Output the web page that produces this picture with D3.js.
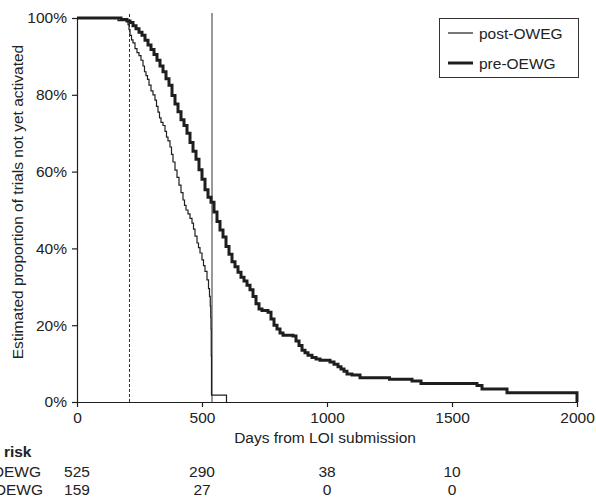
<!DOCTYPE html>
<html><head><meta charset="utf-8">
<script src="https://cdn.jsdelivr.net/npm/d3@7"></script>
<style>
body{margin:0;background:#fff;}
svg{display:block;font-family:"Liberation Sans",Arial,sans-serif;}
</style></head>
<body><svg id="c" width="596" height="500"></svg>
<script>
// ---- data ----
const postDays = [0,164,204,208,212,218,224,232,240,248,256,264,270,276,282,288,296,304,312,318,324,330,336,344,352,358,364,372,378,384,392,400,408,416,424,430,436,444,452,460,466,472,480,486,492,500,506,512,520,526,530,533,535,536,537,538,598];
const postSurv = [100,99.3,98.3,97,95.5,94.3,93.5,92,91,90.2,89,87.5,86,85,84,82.5,81,80,78.6,77,75.5,74,72.8,72,70.5,69,68,66.4,64.5,62.5,60.4,58.5,56.5,54.5,52.6,51.2,50,49,47.8,46.6,45,43.2,41.4,40.2,38.8,37,35.5,34,31.8,29.5,27.5,25,22,19,12,1.8,0];
const preDays = [0,176,200,212,224,236,248,260,272,284,296,308,320,332,344,356,368,380,392,404,416,428,440,452,464,476,488,500,512,524,536,548,560,572,584,596,608,620,632,644,656,668,680,692,704,716,728,740,764,776,788,800,812,824,864,876,888,900,912,924,940,956,972,1012,1028,1044,1056,1068,1080,1100,1132,1250,1340,1376,1600,1620,1720,2000];
const preSurv = [100,99.6,99.2,98.8,98,97.2,96.3,95.5,94.2,93,91.8,90.5,89,87.5,86,84.2,82.5,79.8,77.6,75.6,73.5,72,70,67.6,65.3,63.2,60.5,58,55.3,53.3,52,49.5,47,44.8,43,40.5,38.5,36.5,35.2,33.8,32.5,31.5,30.4,29.2,27.5,25.6,24.2,23.8,23.4,21.6,20,19,18,17.4,17.2,15.9,14.7,13.5,12.8,12.2,11.6,11.2,10.9,10.4,9.8,9.2,8.6,8,7.3,7,6.3,5.9,5.5,4.8,4.3,3.4,2.4,0];
const seriesNames = ["post-OWEG","pre-OEWG"];
const xTicks = [0,500,1000,1500,2000];
const yTicks = [0,20,40,60,80,100];
const refDashed = [210];
const refSolid = [540];
const riskTitle = "No. at risk";
const riskLabels = ["post-OEWG","pre-OEWG"];
const riskDays = [0,500,1000,1500];
const riskPost = [525,290,38,10];
const riskPre = [159,27,0,0];

// ---- layout ----
const svg = d3.select("#c");
const m = {l:77, t:18, w:500, h:384};
const x = d3.scaleLinear().domain([0,2000]).range([m.l, m.l+m.w]);
const y = d3.scaleLinear().domain([0,100]).range([m.t+m.h, m.t]);
const fs = 15.5;
const ink = "#1e1e1e";

// axes
const gx = svg.append("g").attr("transform",`translate(0,${m.t+m.h})`)
  .call(d3.axisBottom(x).tickValues(xTicks).tickSize(5).tickSizeOuter(0).tickPadding(5).tickFormat(d3.format("d")));
const gy = svg.append("g").attr("transform",`translate(${m.l},0)`)
  .call(d3.axisLeft(y).tickValues(yTicks).tickSize(5).tickSizeOuter(0).tickPadding(5).tickFormat(d=>d+"%"));
[gx,gy].forEach(g=>{
  g.selectAll("text").attr("font-size",fs).attr("fill","#222").attr("font-family","Liberation Sans, Arial, sans-serif");
  g.selectAll("line,path").attr("stroke",ink).attr("stroke-width",1.2);
});

// reference lines
refDashed.forEach(d=>{
  svg.append("line").attr("x1",x(d)).attr("x2",x(d)).attr("y1",y(0)).attr("y2",y(101.3))
    .attr("stroke","#333").attr("stroke-width",1).attr("stroke-dasharray","3,2");
});
refSolid.forEach(d=>{
  svg.append("line").attr("x1",x(d)).attr("x2",x(d)).attr("y1",y(0)).attr("y2",y(101.3))
    .attr("stroke","#555").attr("stroke-width",1.2);
});

// curves
const line = d3.line().x(d=>x(d[0])).y(d=>y(d[1])).curve(d3.curveStepAfter);
const postData = d3.zip(postDays, postSurv);
const preData = d3.zip(preDays, preSurv);
svg.append("path").datum(preData).attr("d",line).attr("fill","none").attr("stroke",ink).attr("stroke-width",3);
svg.append("path").datum(postData).attr("d",line).attr("fill","none").attr("stroke",ink).attr("stroke-width",1.2);

// axis titles
svg.append("text").attr("x",x(1000)-2).attr("y",443).attr("text-anchor","middle")
  .attr("font-size",fs).attr("fill","#222").text("Days from LOI submission");
svg.append("text").attr("transform",`translate(23,${y(50)-8}) rotate(-90)`).attr("text-anchor","middle")
  .attr("font-size",fs).attr("fill","#222").text("Estimated proportion of trials not yet activated");

// legend
const lg = svg.append("g");
lg.append("rect").attr("x",439.5).attr("y",18.5).attr("width",139).attr("height",59)
  .attr("fill","#fff").attr("stroke","#333").attr("stroke-width",1);
seriesNames.forEach((n,i)=>{
  const yy = 33 + i*30;
  lg.append("line").attr("x1",448).attr("x2",473).attr("y1",yy).attr("y2",yy)
    .attr("stroke",ink).attr("stroke-width",i===0?1.2:3);
  lg.append("text").attr("x",479).attr("y",yy+5.5).attr("font-size",fs).attr("fill","#222").text(n);
});

// risk table
svg.append("text").attr("x",31.5).attr("y",457).attr("text-anchor","end").attr("font-weight","bold")
  .attr("font-size",fs).attr("fill","#222").text(riskTitle);
[riskPost, riskPre].forEach((row,i)=>{
  const yy = 477 + i*18;
  svg.append("text").attr("x",i===0?41:43).attr("y",yy).attr("text-anchor","end")
    .attr("font-size",fs).attr("fill","#222").text(riskLabels[i]);
  row.forEach((v,j)=>{
    svg.append("text").attr("x",x(riskDays[j])).attr("y",yy).attr("text-anchor","middle")
      .attr("font-size",fs).attr("fill","#222").text(v);
  });
});
</script></body></html>
